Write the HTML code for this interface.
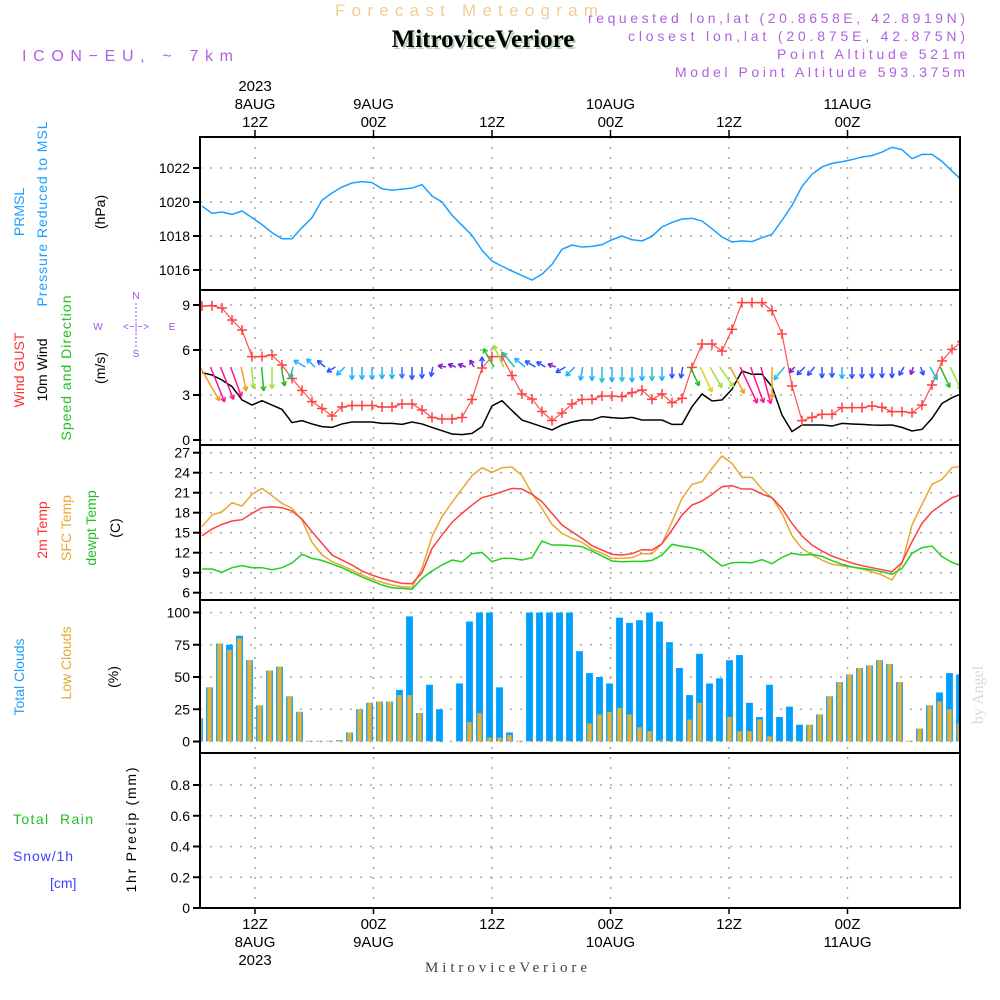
<!DOCTYPE html>
<html><head><meta charset="utf-8">
<style>
html,body{margin:0;padding:0;background:#fff;}
svg{display:block;font-family:"Liberation Sans",sans-serif;}
</style></head>
<body>
<svg id="chart" width="1000" height="1000" viewBox="0 0 1000 1000" xmlns="http://www.w3.org/2000/svg">
<rect x="0" y="0" width="1000" height="1000" fill="#fff"/>
<!-- header -->
<text x="335" y="16" font-size="17" fill="#f2cd98" textLength="263" lengthAdjust="spacing">Forecast Meteogram</text>
<text x="485" y="49" font-size="25" font-weight="bold" font-family="Liberation Serif, serif" fill="#b8d0b8" text-anchor="middle">MitroviceVeriore</text>
<text x="483" y="47" font-size="25" font-weight="bold" font-family="Liberation Serif, serif" fill="#000" text-anchor="middle">MitroviceVeriore</text>
<text x="22" y="61" font-size="16" fill="#b060e8" textLength="211" lengthAdjust="spacing">ICON−EU, ~ 7km</text>
<g font-size="14" fill="#b060e0">
<text x="588" y="23" textLength="377" lengthAdjust="spacing">requested lon,lat (20.8658E, 42.8919N)</text>
<text x="628" y="41" textLength="337" lengthAdjust="spacing">closest lon,lat (20.875E, 42.875N)</text>
<text x="777" y="59" textLength="188" lengthAdjust="spacing">Point Altitude 521m</text>
<text x="675" y="77" textLength="290" lengthAdjust="spacing">Model Point Altitude 593.375m</text>
</g>
<!-- left labels -->
<g font-size="14">
<text transform="translate(24,212) rotate(-90)" fill="#1aa0ff" text-anchor="middle">PRMSL</text>
<text transform="translate(47,214) rotate(-90)" fill="#1aa0ff" text-anchor="middle" textLength="185" lengthAdjust="spacing">Pressure Reduced to MSL</text>
<text transform="translate(105,212) rotate(-90)" fill="#000" text-anchor="middle">(hPa)</text>
<text transform="translate(24,370) rotate(-90)" fill="#ff3030" text-anchor="middle">Wind GUST</text>
<text transform="translate(47,370) rotate(-90)" fill="#000" text-anchor="middle">10m Wind</text>
<text transform="translate(71,368) rotate(-90)" fill="#20c020" text-anchor="middle" textLength="145" lengthAdjust="spacing">Speed and Direction</text>
<text transform="translate(105,368) rotate(-90)" fill="#000" text-anchor="middle">(m/s)</text>
<text transform="translate(47,530) rotate(-90)" fill="#ff3030" text-anchor="middle">2m Temp</text>
<text transform="translate(71,528) rotate(-90)" fill="#e8a830" text-anchor="middle">SFC Temp</text>
<text transform="translate(96,528) rotate(-90)" fill="#20c020" text-anchor="middle">dewpt Temp</text>
<text transform="translate(120,528) rotate(-90)" fill="#000" text-anchor="middle">(C)</text>
<text transform="translate(24,677) rotate(-90)" fill="#1aa0ff" text-anchor="middle">Total Clouds</text>
<text transform="translate(71,663) rotate(-90)" fill="#e8a830" text-anchor="middle">Low Clouds</text>
<text transform="translate(118,677) rotate(-90)" fill="#000" text-anchor="middle">(%)</text>
<text x="13" y="824" fill="#20c020" xml:space="preserve" textLength="80" lengthAdjust="spacing">Total  Rain</text>
<text x="13" y="861" fill="#4040ff" textLength="60" lengthAdjust="spacing">Snow/1h</text>
<text x="50" y="888" fill="#4040ff">[cm]</text>
<text transform="translate(136,830) rotate(-90)" fill="#000" text-anchor="middle" textLength="125" lengthAdjust="spacing">1hr Precip (mm)</text>
</g>
<g fill="#a050e0" font-size="10" text-anchor="middle">
<text x="136" y="299">N</text><text x="136" y="357">S</text>
<text x="98" y="330">W</text><text x="172" y="330">E</text>
<text x="136" y="330" xml:space="preserve">&lt;−|−&gt;</text>
<line x1="136" y1="303" x2="136" y2="321" stroke="#a050e0" stroke-dasharray="2 2"/>
<line x1="136" y1="333" x2="136" y2="348" stroke="#a050e0" stroke-dasharray="2 2"/>
</g>
<text transform="translate(983,695) rotate(-90)" font-family="Liberation Serif, serif" font-size="16" fill="#d8d8d8" text-anchor="middle">by Angel</text>
<text x="425" y="972" font-family="Liberation Serif, serif" font-size="15" fill="#444" textLength="162" lengthAdjust="spacing">MitroviceVeriore</text>
<g id="layer"></g>
</svg>
<script>
// ---- data (hourly, k = 0..76) ----
const pressure = [1019.76,1019.33,1019.41,1019.27,1019.47,1019.08,1018.67,1018.2,1017.84,1017.84,1018.49,1019.08,1020.1,1020.53,1020.88,1021.12,1021.2,1021.14,1020.78,1020.69,1020.76,1020.82,1021.02,1020.35,1020.0,1019.22,1018.63,1018.04,1017.16,1016.53,1016.22,1015.94,1015.67,1015.41,1015.75,1016.33,1017.22,1017.47,1017.35,1017.39,
1017.49,1017.78,1018.0,1017.78,1017.71,1017.98,1018.53,1018.8,1019.0,1019.04,1018.88,1018.43,1017.94,1017.65,1017.71,1017.67,1017.9,1018.1,1018.92,1019.8,1020.92,1021.63,1022.06,1022.27,1022.37,1022.49,1022.65,1022.73,1022.94,1023.22,1023.08,1022.55,1022.8,1022.8,1022.39,1021.82,1021.27];
const windGust = [8.93,8.95,8.8,8.0,7.33,5.56,5.56,5.67,5.0,4.1,3.3,2.56,2.1,1.6,2.2,2.3,2.3,2.3,2.2,2.2,2.4,2.4,2.0,1.5,1.4,1.4,1.5,2.7,4.8,5.56,5.56,4.3,3.07,2.73,1.9,1.3,1.8,2.4,2.7,
2.71,2.93,2.93,2.89,3.16,3.33,2.71,3.07,2.49,2.78,4.84,6.4,6.4,5.93,7.38,9.16,9.16,9.16,8.62,7.07,3.6,1.29,1.51,1.71,1.71,2.16,2.16,2.16,2.27,2.18,1.89,1.89,1.82,2.33,3.67,5.27,6.04,6.56];
const wind10m = [4.49,4.33,4.0,3.56,2.67,2.33,2.62,2.33,2.04,1.16,1.29,1.07,0.89,0.84,1.07,1.2,1.2,1.2,1.11,1.11,1.04,1.2,1.07,0.84,0.62,0.4,0.36,0.44,0.89,2.27,2.62,1.96,1.33,1.11,0.89,0.67,1.0,1.2,1.33,1.33,
1.56,1.49,1.44,1.51,1.33,1.33,1.33,1.04,1.04,2.22,3.07,2.6,2.67,3.38,4.6,4.38,4.38,3.56,1.67,0.56,1.0,1.0,1.0,0.93,1.11,1.07,1.04,1.0,0.98,1.0,0.84,0.6,0.71,1.44,2.44,2.82,3.1];
const windDir = [30,22,22,20,12,5,5,0,10,-15,-120,-135,-130,-60,-45,0,0,0,0,0,0,0,0,-10,-100,-110,-110,-150,180,-150,-155,-140,-130,-120,-120,-110,-60,-45,-10,
0,0,0,0,0,0,0,0,0,-10,25,25,30,35,28,25,20,15,0,-40,-45,-45,-40,0,0,0,0,0,0,0,0,-30,-20,20,30,25,25];
const windColor = ["#f0a020","#ff1493","#ff1493","#ff1493","#f0a020","#a0e040","#20c020","#a0e040","#20c020","#20c0a0","#20b0ff","#20b0ff","#3050ff","#3050ff","#20b0ff","#20b0ff","#20b0ff","#20b0ff","#20b0ff","#20b0ff","#3070ff","#3050ff","#3050ff","#3050ff","#8020d0","#8020d0","#8020d0","#8020d0","#3050ff","#20c020","#a0e040","#20c0a0","#20b0ff","#3050ff","#3050ff","#8020d0","#3050ff","#20b0ff","#20b0ff",
"#20b0ff","#20c0d0","#20b0ff","#20c0d0","#20b0ff","#20b0ff","#20c0d0","#20b0ff","#3050ff","#3050ff","#20c020","#e0d020","#a0e040","#a0e040","#f0a020","#ff1493","#ff1493","#ff1493","#f0a020","#20c0d0","#8020d0","#3050ff","#3050ff","#3050ff","#3050ff","#20b0ff","#3050ff","#3050ff","#3050ff","#3050ff","#3050ff","#3050ff","#8020d0","#3050ff","#20c0d0","#20c020","#a0e040","#e0d020"];
const temp2m = [14.55,15.55,16.25,16.75,16.95,17.9,18.75,18.9,18.75,18.25,17.05,15.15,13.4,11.65,10.9,10.15,9.25,8.65,8.15,7.75,7.4,7.35,9.0,12.65,14.65,16.55,17.9,19.15,20.25,20.65,21.15,21.65,21.55,20.75,19.65,17.9,16.15,15.15,14.15,13.05,
12.4,11.75,11.65,11.85,12.45,12.4,13.35,15.4,17.65,19.15,19.75,20.75,21.9,22.05,21.55,21.55,20.8,20.25,18.65,16.4,14.5,13.15,12.25,11.5,10.95,10.45,10.05,9.75,9.45,9.15,10.55,13.65,16.4,18.15,19.25,20.25,20.75];
const tempSfc = [15.9,17.65,18.15,19.5,19.0,20.75,21.65,20.55,19.4,18.65,16.9,13.55,11.65,10.65,10.05,9.4,8.65,8.05,7.55,7.15,6.9,6.8,9.65,14.4,17.4,19.55,21.55,23.55,24.75,24.05,24.75,24.85,23.55,20.9,18.65,16.25,14.9,14.15,13.55,12.55,
11.9,11.15,11.15,11.25,11.85,11.85,13.35,16.65,20.15,22.25,22.65,24.65,26.5,25.4,23.3,23.3,21.55,20.25,17.9,14.55,12.65,11.65,10.9,10.25,10.05,9.85,9.55,9.15,8.65,7.9,10.4,16.15,19.25,22.25,23.0,24.75,25.0];
const dewpt = [9.55,9.55,9.05,9.75,10.05,9.75,9.75,9.45,9.75,10.45,11.75,11.15,10.85,10.3,9.75,9.05,8.35,7.75,7.15,6.75,6.65,6.5,8.15,9.25,10.15,10.9,10.65,11.85,12.05,10.65,11.15,11.15,10.9,11.25,13.75,13.15,13.15,13.05,12.9,12.25,
11.5,10.75,10.65,10.7,10.7,10.85,11.65,13.25,12.95,12.75,12.35,11.15,10.0,10.5,10.55,10.5,10.95,10.35,11.3,11.9,11.65,11.75,11.45,10.8,10.25,9.85,9.65,9.45,9.15,8.75,9.65,11.9,12.75,13.0,11.4,10.55,10.0];
const totalClouds = [18,42,76,75,82,63,28,55,58,35,23,0.5,0.5,0.5,1,7,25,30,31,31,40,97,22,44,25,0,45,93,100,100,42,7,0.5,100,100,100,100,100,70,53,
50,45,96,92,94,100,93,77,57,36,68,45,49,63,67,30,19,44,19,27,13,13,21,35,46,52,57,59,63,60,46,0.5,10,28,38,53,52];
const lowClouds = [18,42,76,71,80,63,28,55,58,35,23,0.5,0.5,0.5,1,7,25,30,31,31,36,36,22,0.5,0,0,0.5,15,22,3,3,5,0.5,0.5,0.5,0.5,0.5,0.5,0.5,14,
21,23,26,21,11,8,1,0.5,0.5,17,30,0.5,0.5,19,8,8,17,4,0.5,0.5,0.5,13,21,35,46,52,57,59,63,60,46,0.5,10,28,31,25,14];
const precip = new Array(77).fill(0);
const pTicks = [1016,1018,1020,1022];
const wTicks = [0,3,6,9];
const tTicks = [6,9,12,15,18,21,24,27];
const cTicks = [0,25,50,75,100];
const rTicks = [0,0.2,0.4,0.6,0.8];
const rTickLabels = ["0","0.2","0.4","0.6","0.8"];
const timeMarks = [12,24,36,48,60,72];
const topDay = ["8AUG","9AUG","","10AUG","","11AUG"];
const hourLbl = ["12Z","00Z","12Z","00Z","12Z","00Z"];

const PL=200, PR=960;
const xk = k => 202 + 10*k;
const xb = k => 199.5 + 10*k;
const xh = h => 255 + (h-12)*(118.5/12);
const yP = p => 270 - (p-1016)*17;
const yW = v => 440 - v*15;
const yT = t => 592.7 - (t-6)*6.667;
const yC = c => 741.5 - c*1.29;
const yR = r => 908 - r*153.75;
const panels = [[137,290],[290,445],[445,600],[600,753],[753,908]];

const NS="http://www.w3.org/2000/svg";
const layer=document.getElementById('layer');
function mk(tag,attrs,parent){const e=document.createElementNS(NS,tag);for(const a in attrs)e.setAttribute(a,attrs[a]);(parent||layer).appendChild(e);return e;}

const defs=mk('defs',{});
const cp=mk('clipPath',{id:'plotclip'},defs);
mk('rect',{x:PL,y:137,width:PR-PL,height:771},cp);

const grid=mk('g',{stroke:'#a8a8a8','stroke-width':1.5,'stroke-dasharray':'2 8'});


timeMarks.forEach(h=>{mk('line',{x1:xh(h),x2:xh(h),y1:137,y2:908},grid);});
function hgrid(ticks,yf,labels,name){
  const g=mk('g',{});
  
  
  ticks.forEach((t,i)=>{
    const y=yf(t);
    mk('line',{x1:PL,x2:PR,y1:y,y2:y,stroke:'#a8a8a8','stroke-width':1.5,'stroke-dasharray':'2 8'},g);
    mk('line',{x1:PL-7,x2:PL,y1:y,y2:y,stroke:'#000','stroke-width':2},g);
    const tx=mk('text',{x:PL-10,y:y+5,'font-size':14,'text-anchor':'end',fill:'#000'},g);
    tx.textContent=labels?labels[i]:String(t);
  });
}
hgrid(pTicks,yP,null,'pressure-y-axis');
hgrid(wTicks,yW,null,'wind-y-axis');
hgrid(tTicks,yT,null,'temp-y-axis');
hgrid(cTicks,yC,null,'cloud-y-axis');
hgrid(rTicks,yR,rTickLabels,'precip-y-axis');

const tl=mk('g',{'font-size':15,'text-anchor':'middle',fill:'#000'});


timeMarks.forEach((h,i)=>{
  const x=xh(h);
  let t=mk('text',{x:x,y:127},tl);t.textContent=hourLbl[i];
  if(topDay[i]){t=mk('text',{x:x,y:109},tl);t.textContent=topDay[i];}
  t=mk('text',{x:x,y:929},tl);t.textContent=hourLbl[i];
  if(topDay[i]){t=mk('text',{x:x,y:947},tl);t.textContent=topDay[i];}
  mk('line',{x1:x,x2:x,y1:130,y2:137,stroke:'#000','stroke-width':1.5},tl);
  mk('line',{x1:x,x2:x,y1:908,y2:914,stroke:'#000','stroke-width':1.5},tl);
});
let yt=mk('text',{x:xh(12),y:91},tl);yt.textContent='2023';
yt=mk('text',{x:xh(12),y:965},tl);yt.textContent='2023';

const plot=mk('g',{'clip-path':'url(#plotclip)'});

const pl=mk('polyline',{points:pressure.map((p,k)=>xk(k)+','+yP(p)).join(' '),fill:'none',stroke:'#1aa0ff','stroke-width':1.5},plot);



const wl=mk('polyline',{points:wind10m.map((v,k)=>xk(k)+','+yW(v)).join(' '),fill:'none',stroke:'#000','stroke-width':1.5},plot);


const gl=mk('polyline',{points:windGust.map((v,k)=>xk(k)+','+yW(v)).join(' '),fill:'none',stroke:'#ff5050','stroke-width':1.2},plot);


const gm=mk('g',{stroke:'#ff4040','stroke-width':1.5},plot);


windGust.forEach((v,k)=>{const x=xk(k),y=yW(v);
  mk('line',{x1:x-5,x2:x+5,y1:y,y2:y},gm);mk('line',{x1:x,x2:x,y1:y-5,y2:y+5},gm);});
const wa=mk('g',{},plot);


windDir.forEach((a,k)=>{
  const len=Math.max(8,8*wind10m[k]+3);
  const r=a*Math.PI/180, dx=Math.sin(r), dy=Math.cos(r);
  const x1=xk(k)-4*dx, y1=367, x2=x1+len*dx, y2=y1+len*dy;
  const c=windColor[k];
  mk('line',{x1:x1,y1:y1,x2:x2,y2:y2,stroke:c,'stroke-width':1.5},wa);
  const h=5, ang=Math.atan2(y2-y1,x2-x1);
  [0.5,-0.5].forEach(s=>{
    mk('line',{x1:x2,y1:y2,x2:x2-h*Math.cos(ang+s),y2:y2-h*Math.sin(ang+s),stroke:c,'stroke-width':1.5},wa);
  });
});

[[tempSfc,'#e8a830','sfc-temp-line'],[temp2m,'#ff4040','temp-2m-line'],[dewpt,'#20d020','dewpt-line']].forEach(([arr,c,n])=>{
  const l=mk('polyline',{points:arr.map((t,k)=>xk(k)+','+yT(t)).join(' '),fill:'none',stroke:c,'stroke-width':1.5},plot);
  
  
});

const cb=mk('g',{},plot);


totalClouds.forEach((c,k)=>{
  const x=xb(k);
  const b=mk('rect',{x:x-3.4,y:yC(c),width:6.8,height:yC(0)-yC(c),fill:'#00a0ff'},cb);
  
  
  const l=lowClouds[k];
  const o=mk('rect',{x:x-2.2,y:yC(l),width:4.4,height:yC(0)-yC(l),fill:'#e8b030'},cb);
  
  
});

const pr=mk('polyline',{points:precip.map((v,k)=>xk(k)+','+yR(v)).join(' '),fill:'none',stroke:'#000','stroke-width':2,'stroke-dasharray':'4 2'},plot);



const fr=mk('g',{fill:'none',stroke:'#000','stroke-width':2});


panels.forEach(([a,b])=>mk('rect',{x:PL,y:a,width:PR-PL,height:b-a},fr));
</script>
</body></html>
